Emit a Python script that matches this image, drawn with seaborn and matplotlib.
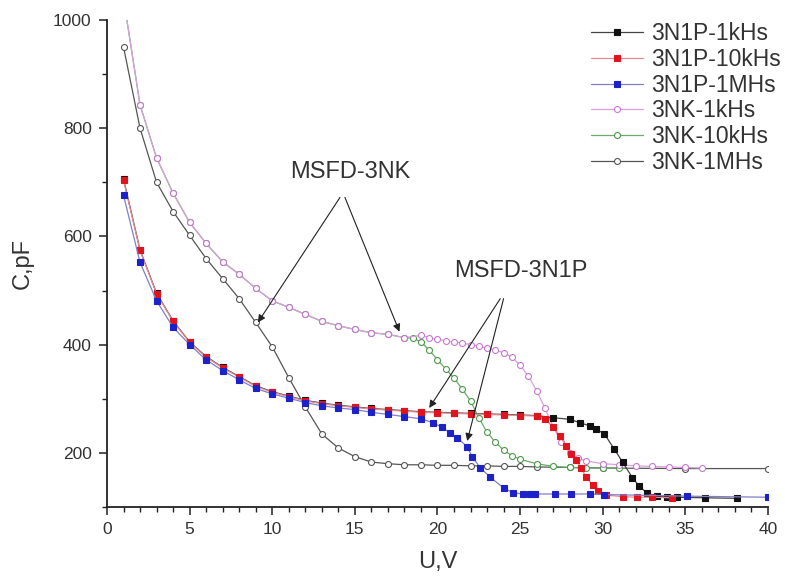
import matplotlib
matplotlib.use("Agg")
import matplotlib.pyplot as plt
import seaborn as sns
import pandas as pd
from matplotlib.ticker import MultipleLocator

# ---------------- data ----------------
upper_x = [1, 2, 3, 4, 5, 6, 7, 8, 9, 10, 11, 12, 13, 14, 15, 16, 17, 18]
upper_y = [1040, 843, 745, 680, 626, 587, 553, 530, 504, 481, 469, 456, 443, 435, 428, 422, 419, 413]

nk1k_x = upper_x + [19, 19.5, 20, 20.5, 21, 21.5, 22, 22.5, 23, 23.5, 24, 24.5, 25, 25.5, 26,
                    26.5, 27, 27.5, 28, 28.5, 29, 30, 31, 32, 33, 34, 35, 36]
nk1k_y = upper_y + [417, 413, 410, 407, 405, 403, 400, 397, 394, 390, 385, 377, 362, 342, 315,
                    283, 248, 220, 200, 190, 185, 180, 178, 176, 175, 174, 173, 172]

nk10k_x = upper_x + [18.5, 19, 19.5, 20, 20.5, 21, 21.5, 22, 22.5, 23, 23.5, 24, 24.5, 25, 26,
                     27, 28, 29, 30, 31]
nk10k_y = upper_y + [412, 405, 390, 372, 355, 338, 318, 296, 265, 238, 220, 205, 195, 188, 180,
                     175, 173, 172, 172, 172]

nk1m_x = [1, 2, 3, 4, 5, 6, 7, 8, 9, 10, 11, 12, 13, 14, 15, 16, 17, 18, 19, 20, 21, 22, 23,
          24, 25, 26, 28, 30, 35, 40]
nk1m_y = [950, 800, 700, 646, 602, 559, 522, 485, 441, 396, 339, 285, 235, 209, 193, 183, 180,
          178, 178, 177, 177, 176, 176, 175, 175, 174, 173, 172, 171, 171]

p10k_x = [1, 2, 3, 4, 5, 6, 7, 8, 9, 10, 11, 12, 13, 14, 15, 16, 17, 18, 19, 20, 21, 22, 23,
          24, 25, 26, 26.5, 27, 27.4, 27.8, 28.1, 28.4, 28.7, 29, 29.4, 29.7, 30.2, 31.2, 32.1,
          33, 34.2]
p10k_y = [704, 574, 494, 443, 404, 377, 357, 340, 323, 312, 304, 296, 291, 287, 284, 281, 279,
          277, 275, 274, 273, 272, 271, 270, 269, 268, 262, 248, 231, 213, 198, 186, 172, 155,
          140, 130, 122, 119, 118, 118, 117]

p1k_x = [1, 2, 3, 4, 5, 6, 7, 8, 9, 10, 11, 12, 13, 14, 15, 16, 17, 18, 19, 20, 21, 22, 23,
         24, 25, 26, 27, 28, 28.6, 29.2, 29.6, 30.1, 30.7, 31.2, 31.8, 32.2, 32.7, 33.3, 33.9,
         34.5, 36.2, 38.1]
p1k_y = [706, 575, 495, 444, 405, 378, 358, 341, 324, 313, 305, 297, 292, 288, 285, 282, 280,
         278, 276, 275, 274, 273, 272, 271, 270, 269, 265, 262, 256, 250, 244, 235, 207, 183,
         154, 139, 125, 120, 119, 118, 117, 116]

p1m_x = [1, 2, 3, 4, 5, 6, 7, 8, 9, 10, 11, 12, 13, 14, 15, 16, 17, 18, 19, 19.7, 20.3, 20.75,
         21.2, 21.8, 22.1, 22.6, 23.2, 24, 24.6, 25.2, 25.6, 25.9, 27.1, 28.1, 29.2, 30.1,
         35.1, 40]
p1m_y = [676, 552, 481, 432, 400, 372, 352, 335, 319, 309, 301, 293, 287, 283, 280, 275, 271,
         267, 263, 256, 247, 237, 228, 211, 193, 172, 155, 135, 126, 124, 124, 124, 124, 124,
         124, 123, 120, 118]

x_ticks = [0, 5, 10, 15, 20, 25, 30, 35, 40]
y_ticks = [200, 400, 600, 800, 1000]

series = [
    # label, x, y, marker, marker colour, line colour, filled
    ("3N1P-1kHs", p1k_x, p1k_y, "s", "#111111", "#444444", True),
    ("3N1P-10kHs", p10k_x, p10k_y, "s", "#e0141e", "#e88a90", True),
    ("3N1P-1MHs", p1m_x, p1m_y, "s", "#1d22c8", "#8080c8", True),
    ("3NK-1kHs", nk1k_x, nk1k_y, "o", "#c878d0", "#d9a0dd", False),
    ("3NK-10kHs", nk10k_x, nk10k_y, "o", "#4c9a4c", "#6aaa6a", False),
    ("3NK-1MHs", nk1m_x, nk1m_y, "o", "#555555", "#555555", False),
]

# ---------------- plot ----------------
sns.set_theme(style="ticks")
plt.rcParams["font.family"] = ["Liberation Sans", "DejaVu Sans"]

fig = plt.figure(figsize=(7.85, 5.82), dpi=100)
ax = fig.add_axes([0.1363, 0.1289, 0.842, 0.8368])

draw_order = [5, 4, 3, 0, 1, 2]
for i in draw_order:
    label, xs, ys, mk, mcol, lcol, filled = series[i]
    df = pd.DataFrame({"U": xs, "C": ys})
    sns.lineplot(data=df, x="U", y="C", ax=ax, color=lcol, lw=0.9,
                 marker=mk, markersize=4.0 if mk == "s" else 4.3,
                 markerfacecolor=mcol if filled else "white",
                 markeredgecolor=mcol, markeredgewidth=0.8,
                 estimator=None, sort=False, label=label)

ax.set_xlim(0, 40)
ax.set_ylim(100, 1000)
ax.set_xticks(x_ticks)
ax.set_yticks(y_ticks)
ax.xaxis.set_minor_locator(MultipleLocator(1))
ax.yaxis.set_minor_locator(MultipleLocator(100))
ax.tick_params(which="major", direction="out", length=6, width=1.1, labelsize=12.5,
               colors="#222222", labelcolor="#333333", pad=5)
ax.tick_params(which="minor", direction="out", length=3.5, width=1.0, colors="#222222")
for s in ["top", "right"]:
    ax.spines[s].set_visible(False)
for s in ["left", "bottom"]:
    ax.spines[s].set_linewidth(1.3)
    ax.spines[s].set_color("#222222")

ax.set_xlabel("U,V", fontsize=17, color="#333333", labelpad=10)
ax.set_ylabel("C,pF", fontsize=17, color="#333333", labelpad=14)

# legend in reference order
h, l = ax.get_legend_handles_labels()
order = [l.index(s[0]) for s in series]
if ax.get_legend():
    ax.get_legend().remove()
leg = fig.legend([h[k] for k in order], [l[k] for k in order],
                 loc="upper right", bbox_to_anchor=(0.995, 0.962), frameon=False,
                 fontsize=16.5, handlelength=2.3, handletextpad=0.35,
                 labelspacing=0.12, borderpad=0, borderaxespad=0)
for t in leg.get_texts():
    t.set_color("#333333")

# annotations
arrow_kw = dict(arrowstyle="-|>", color="#222222", lw=0.8, mutation_scale=11,
                shrinkA=0, shrinkB=0)
ax.text(14.7, 719, "MSFD-3NK", fontsize=17, color="#333333", ha="center", va="center")
ax.annotate("", xy=(9.13, 441), xytext=(14.1, 672), arrowprops=arrow_kw)
ax.annotate("", xy=(17.7, 424), xytext=(14.4, 672), arrowprops=arrow_kw)

ax.text(25.05, 537, "MSFD-3N1P", fontsize=17, color="#333333", ha="center", va="center")
ax.annotate("", xy=(19.5, 283), xytext=(23.8, 485), arrowprops=arrow_kw)
ax.annotate("", xy=(21.8, 222), xytext=(24.0, 485), arrowprops=arrow_kw)

fig.savefig("out.png", dpi=100)
